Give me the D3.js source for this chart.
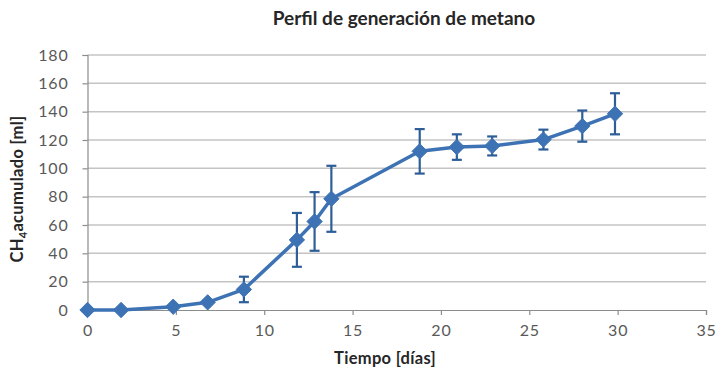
<!DOCTYPE html>
<html><head><meta charset="utf-8">
<script src="https://cdn.jsdelivr.net/npm/d3@7"></script>
<style>body{margin:0;background:#fff}svg{display:block}</style>
</head><body>
<svg id="c" width="721" height="375"></svg>
<script>
const title = "Perfil de generación de metano";
const xLabel = "Tiempo [días]";
const days   = [0, 1.9, 4.85, 6.8, 8.85, 11.85, 12.85, 13.8, 18.8, 20.9, 22.9, 25.8, 28, 29.85];
const means  = [0, 0, 2.3, 5.4, 14.5, 49.5, 62.5, 78.5, 112, 115, 115.8, 120.3, 129.8, 138.5];
const errors = [0, 0, 0, 0, 9, 19, 20.7, 23.3, 15.7, 9, 6.7, 7, 11, 14.5];
const xTicks = [0, 5, 10, 15, 20, 25, 30, 35];
const yTicks = [0, 20, 40, 60, 80, 100, 120, 140, 160, 180];

const svg = d3.select("#c");
const font = "Lato, 'Open Sans', sans-serif";
const x = d3.scaleLinear().domain([0, 35]).range([87.5, 706]);
const y = d3.scaleLinear().domain([0, 180]).range([310, 55]);
const blue = "#3d72b4", dark = "#2e5e98";

// gridlines
svg.append("g").selectAll("line").data(yTicks.filter(d => d > 0)).join("line")
  .attr("x1", x(0)).attr("x2", x(35)).attr("y1", d => y(d)).attr("y2", d => y(d))
  .attr("stroke", "#c4c4c4").attr("stroke-width", 1.5);

// axes
const xAxis = svg.append("g").attr("transform", `translate(0,${y(0)})`)
  .call(d3.axisBottom(x).tickValues(xTicks).tickSize(5).tickPadding(10).tickFormat(d3.format("d")));
const yAxis = svg.append("g").attr("transform", `translate(${x(0)},0)`)
  .call(d3.axisLeft(y).tickValues(yTicks).tickSize(5).tickPadding(14).tickFormat(d3.format("d")));
[xAxis, yAxis].forEach(a => {
  a.select(".domain").attr("stroke", "#8c8c8c").attr("stroke-width", 1.2);
  a.selectAll(".tick line").attr("stroke", "#8c8c8c").attr("stroke-width", 1.2);
  a.selectAll("text").attr("fill", "#595959").style("font-family", font)
    .style("font-size", "16px").style("letter-spacing", "0.8px");
});

const data = days.map((d, i) => ({d, m: means[i], e: errors[i]}));

// error bars
const eb = svg.append("g").selectAll("g").data(data.filter(p => p.e > 0)).join("g")
  .attr("stroke", dark).attr("stroke-width", 2.2);
eb.append("line").attr("x1", p => x(p.d)).attr("x2", p => x(p.d))
  .attr("y1", p => y(p.m + p.e)).attr("y2", p => y(p.m - p.e));
eb.append("line").attr("x1", p => x(p.d) - 5).attr("x2", p => x(p.d) + 5)
  .attr("y1", p => y(p.m + p.e)).attr("y2", p => y(p.m + p.e));
eb.append("line").attr("x1", p => x(p.d) - 5).attr("x2", p => x(p.d) + 5)
  .attr("y1", p => y(p.m - p.e)).attr("y2", p => y(p.m - p.e));

// line
svg.append("path").datum(data)
  .attr("d", d3.line().x(p => x(p.d)).y(p => y(p.m)))
  .attr("fill", "none").attr("stroke", blue).attr("stroke-width", 3.5).attr("stroke-linejoin", "round");

// markers
svg.append("g").selectAll("path").data(data).join("path")
  .attr("transform", p => `translate(${x(p.d)},${y(p.m)})`)
  .attr("d", d3.symbol(d3.symbolDiamond2, 150)())
  .attr("fill", blue).attr("stroke", blue).attr("stroke-width", 1);

// title
svg.append("text").attr("x", 404).attr("y", 25).attr("text-anchor", "middle")
  .style("font-family", font).style("font-weight", "bold").style("font-size", "19px")
  .attr("fill", "#262626").text(title);

// x label
svg.append("text").attr("x", 385).attr("y", 364).attr("text-anchor", "middle")
  .style("font-family", font).style("font-weight", "bold").style("font-size", "16.5px")
  .style("letter-spacing", "0.3px")
  .attr("fill", "#262626").text(xLabel);

// y label
const yl = svg.append("text").attr("transform", "translate(23,189) rotate(-90)")
  .attr("text-anchor", "middle")
  .style("font-family", font).style("font-weight", "bold").style("font-size", "16.5px")
  .style("letter-spacing", "0.3px")
  .attr("fill", "#262626");
yl.append("tspan").text("CH");
yl.append("tspan").attr("dy", 4).style("font-size", "11px").text("4");
yl.append("tspan").attr("dy", -4).text("acumulado [ml]");
</script>
</body></html>
